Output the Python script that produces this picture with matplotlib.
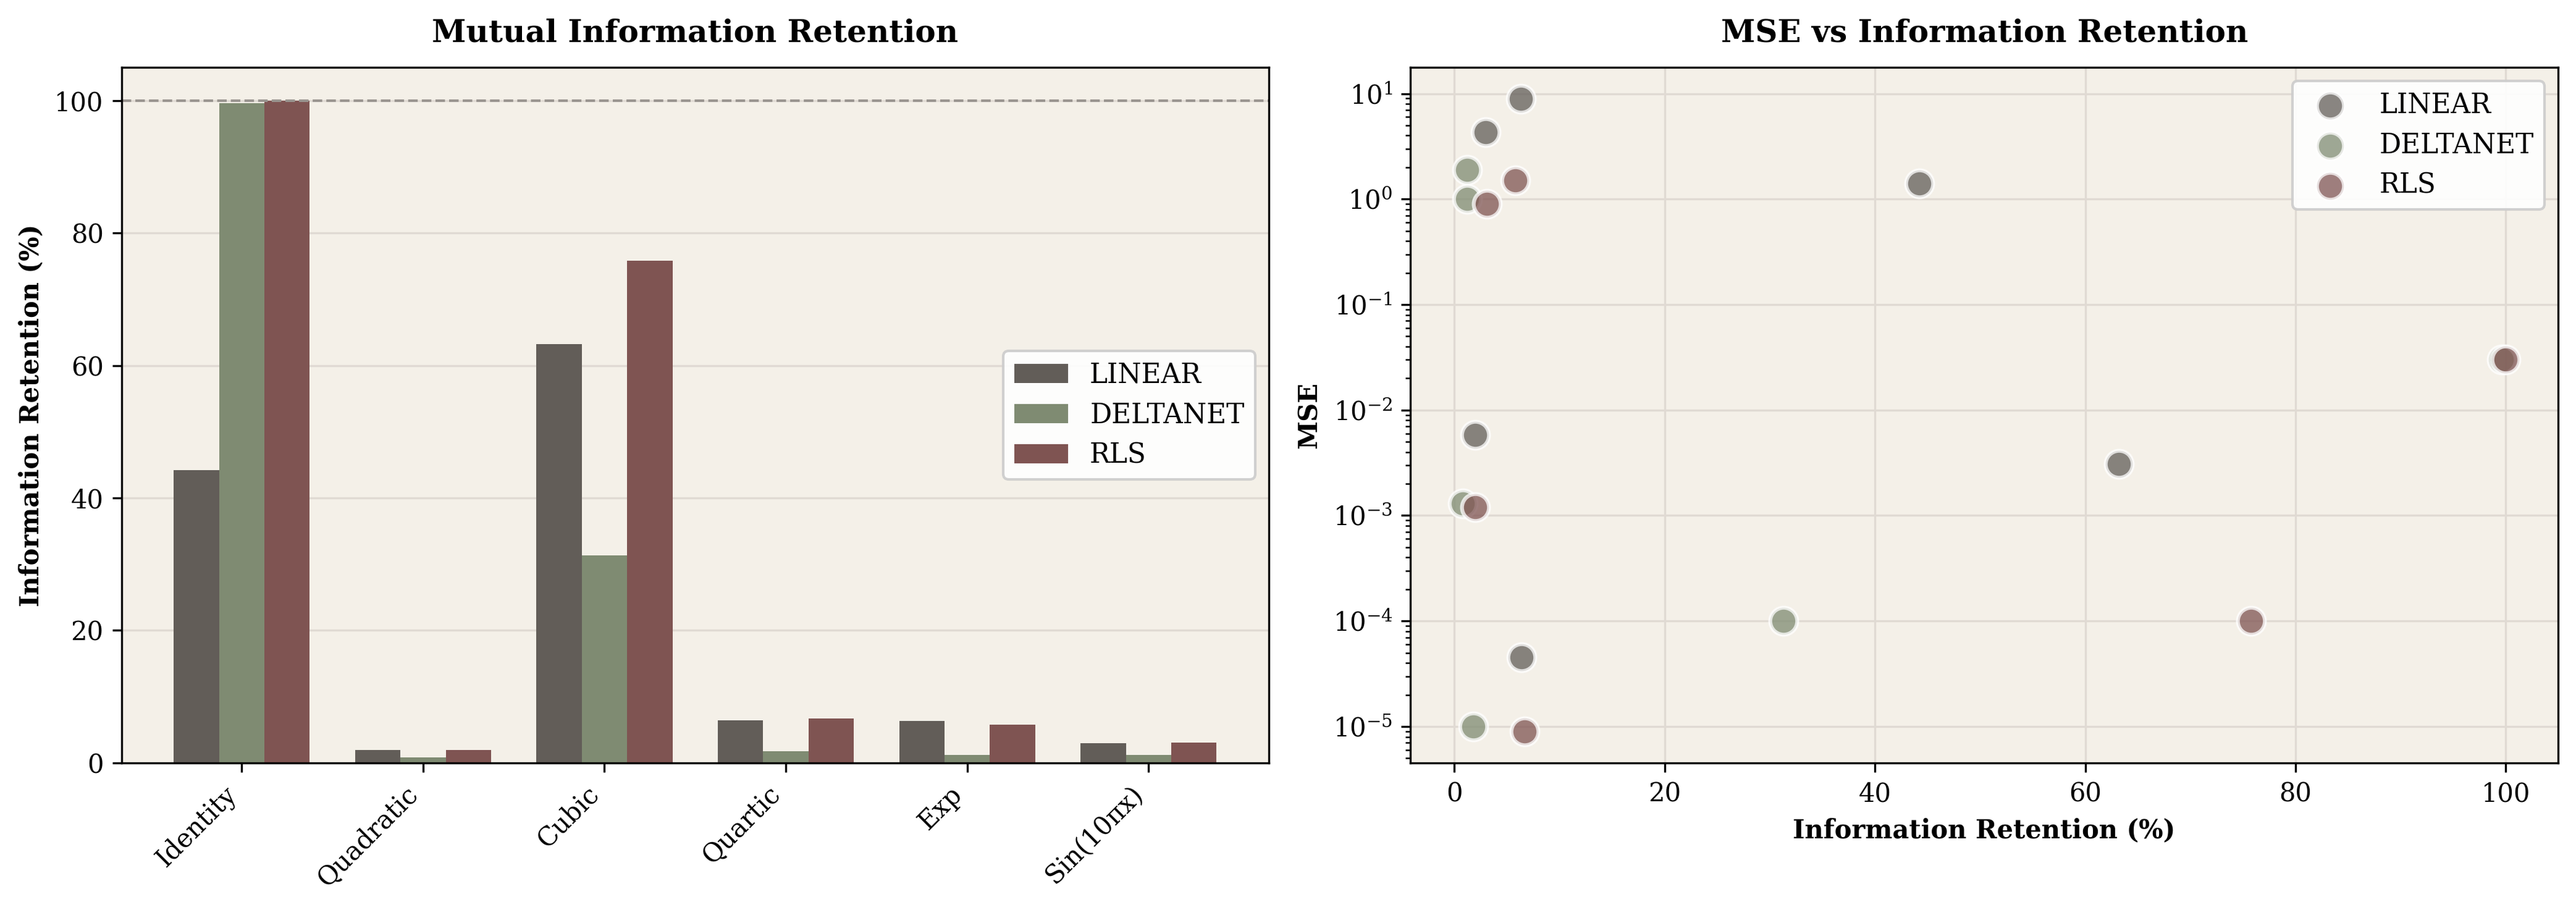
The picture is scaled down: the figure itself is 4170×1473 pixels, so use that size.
import matplotlib
matplotlib.use("Agg")
import matplotlib.pyplot as plt
import numpy as np

plt.rcParams['font.family'] = ['DejaVu Serif']

functions = ['Identity', 'Quadratic', 'Cubic', 'Quartic', 'Exp', 'Sin(10πx)']
models = ['LINEAR', 'DELTANET', 'RLS']
colors = ['#625d58', '#7f8b72', '#7f5452']

# information retention (%) per function
retention_linear = [44.2, 2.0, 63.2, 6.4, 6.3, 3.0]
retention_deltanet = [99.6, 0.8, 31.3, 1.8, 1.2, 1.2]
retention_rls = [100.0, 2.0, 75.8, 6.7, 5.8, 3.1]

# mse per function
mse_linear = [1.4, 5.8e-3, 3.1e-3, 4.5e-5, 8.9, 4.3]
mse_deltanet = [3.0e-2, 1.3e-3, 1.0e-4, 1.0e-5, 1.9, 1.0]
mse_rls = [3.0e-2, 1.2e-3, 1.0e-4, 9.0e-6, 1.5, 0.9]

retention = [retention_linear, retention_deltanet, retention_rls]
mse = [mse_linear, mse_deltanet, mse_rls]

bg = '#f4f0e8'
fig = plt.figure(figsize=(13.9, 4.91), dpi=300)
bottom, top = 0.1616, 0.926
ax1 = fig.add_axes([0.0472, bottom, 0.4925 - 0.0472, top - bottom])
ax2 = fig.add_axes([0.5476, bottom, 0.993 - 0.5476, top - bottom])

# left: grouped bars
x = np.arange(len(functions))
w = 0.25
ax1.set_facecolor(bg)
for i, m in enumerate(models):
    ax1.bar(x + (i - 1) * w, retention[i], w, color=colors[i], label=m)
ax1.axhline(100, color='#9a9590', linestyle='--', linewidth=1)
ax1.set_xticks(x)
ax1.set_xticklabels(functions, rotation=45, ha='right', fontsize=10)
ax1.set_ylabel('Information Retention (%)', fontweight='bold', fontsize=10)
ax1.set_title('Mutual Information Retention', fontweight='bold', fontsize=12, pad=10)
ax1.set_ylim(0, 105)
ax1.grid(axis='y', color='#e0dad3', linewidth=0.8)
ax1.set_axisbelow(True)
ax1.tick_params(labelsize=10)
ax1.legend(loc='center right', fontsize=10.5, framealpha=0.9)

# right: scatter mse vs retention
ax2.set_facecolor(bg)
for i, m in enumerate(models):
    ax2.scatter(retention[i], mse[i], s=110, color=colors[i], alpha=0.75,
                edgecolor='white', linewidth=1.5, label=m, zorder=3)
ax2.set_yscale('log')
ax2.set_xlabel('Information Retention (%)', fontweight='bold', fontsize=10)
ax2.set_ylabel('MSE', fontweight='bold', fontsize=10)
ax2.set_title('MSE vs Information Retention', fontweight='bold', fontsize=12, pad=10)
ax2.grid(True, color='#e0dad3', linewidth=0.8)
ax2.set_axisbelow(True)
ax2.tick_params(labelsize=10)
ax2.legend(loc='upper right', fontsize=10.5, framealpha=0.9)

fig.savefig('out.png', dpi=300)
